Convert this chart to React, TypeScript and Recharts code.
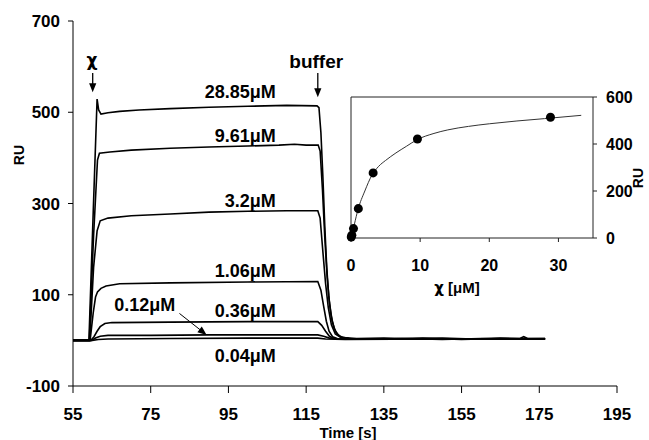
import React from 'react';
import { LineChart, ComposedChart, Line, Scatter, XAxis, YAxis, ReferenceLine, ReferenceDot } from 'recharts';

const timeTicks = [55, 75, 95, 115, 135, 155, 175, 195];
const ruTicks = [-100, 100, 300, 500, 700];

// sensorgrams: [time (s), RU]
const trace2885 = [[55, 0], [59.1, 0], [60.2, 280], [61.2, 529], [61.6, 505], [62.2, 496], [64, 499], [67, 502], [72, 505], [80, 508], [90, 511], [100, 513], [110, 515], [117.8, 514], [118.3, 510], [118.8, 455], [119.3, 360], [119.8, 250], [120.3, 160], [120.8, 98], [121.4, 55], [122.2, 26], [123.2, 12], [124.5, 6], [128, 4], [135, 5], [142, 3], [150, 5], [158, 3], [165, 5], [170, 4], [171, 8], [172, 4], [176.5, 4]];
const trace961 = [[55, 0], [59.2, 0], [60.3, 230], [61.3, 395], [61.8, 410], [64.5, 413], [70, 417], [80, 421], [90, 424], [100, 426], [108, 428], [112, 430], [115, 428], [118.1, 428], [118.6, 415], [119.2, 330], [119.8, 225], [120.4, 140], [121, 82], [121.7, 42], [122.6, 18], [123.8, 8], [126, 4], [135, 3], [145, 5], [155, 2], [165, 4], [176.5, 3]];
const trace32 = [[55, 0], [59.3, 0], [60.3, 160], [61.2, 240], [62, 262], [64, 268], [70, 273], [80, 277], [90, 281], [100, 283], [110, 284], [118, 284], [118.6, 268], [119.3, 195], [120, 125], [120.7, 72], [121.5, 34], [122.5, 14], [124, 6], [127, 3], [140, 4], [150, 2], [160, 4], [176.5, 3]];
const trace106 = [[55, 0], [59.4, 0], [60.2, 60], [60.8, 95], [61.3, 106], [62.2, 114], [63.5, 119], [67, 124], [80, 126], [100, 128], [118, 129], [118.8, 110], [119.5, 75], [120.2, 42], [120.9, 20], [121.8, 8], [123, 4], [130, 3], [145, 4], [160, 3], [176.5, 4]];
const trace036 = [[55, 0], [59.6, 0], [60.4, 8], [61.2, 20], [62, 30], [63.2, 37], [65, 39], [80, 40], [100, 41], [118, 41], [119, 33], [120, 20], [121, 9], [122, 4], [130, 3], [150, 3], [176.5, 3]];
const trace012 = [[55, 0], [59.8, 0], [60.8, 5], [62, 9], [64, 11], [75, 11], [90, 12], [110, 12], [118, 12], [119.5, 9], [121, 5], [123, 3], [140, 3], [176.5, 3]];
const trace004 = [[55, 0], [60, 0], [61.5, 2], [64, 3], [80, 4], [100, 5], [118, 5], [120, 3], [125, 2], [150, 3], [176.5, 3]];

// inset: steady-state binding
const concentrations = [0.04, 0.12, 0.36, 1.06, 3.2, 9.61, 28.85];
const equilibriumRU = [4, 12, 40, 125, 277, 421, 514];
const fitConc = [0, 0.5, 1, 2, 3, 4, 5, 6.5, 8, 9.6, 12, 14, 17, 20, 24, 28, 33.3];
const fitRU = [0, 60, 120, 200, 266, 305, 330, 362, 390, 419, 445, 460, 475, 486, 498, 508, 522];
const insetXTicks = [0, 10, 20, 30];
const insetYTicks = [0, 200, 400, 600];

const toPoints = (arr: number[][]) => arr.map(([t, ru]) => ({ t, ru }));

const traces = [trace2885, trace961, trace32, trace106, trace036, trace012, trace004].map(toPoints);
const bindingPoints = concentrations.map((c, i) => ({ c, ru: equilibriumRU[i] }));
const fitPoints = fitConc.map((c, i) => ({ c, ru: fitRU[i] }));

// annotations (label anchor = right end of text baseline)
const concLabels = [
  { text: '28.85μM', t: 107.2, ru: 531 },
  { text: '9.61μM', t: 107.2, ru: 435 },
  { text: '3.2μM', t: 107.2, ru: 293 },
  { text: '1.06μM', t: 107.2, ru: 138 },
  { text: '0.36μM', t: 107.2, ru: 52 },
  { text: '0.12μM', t: 81.3, ru: 65 },
  { text: '0.04μM', t: 107.2, ru: -47 },
];

const FONT = "'Liberation Sans', Arial, Helvetica, sans-serif";
const CHI_FONT = "'DejaVu Sans', sans-serif";

const ArrowHead = ({ cx, cy, angle }: any) => (
  <polygon points="0,0 -9,-3.6 -9,3.6" transform={`translate(${cx},${cy}) rotate(${angle})`} fill="#000" />
);

const textShape = (text: string, anchor: string, size: number, weight: string, family = FONT) => (p: any) => (
  <text x={p.cx} y={p.cy} textAnchor={anchor} fontSize={size} fontWeight={weight} fill="#000" fontFamily={family}>
    {text}
  </text>
);

const tickStyle = { fill: '#000', fontSize: 17, fontWeight: 'bold' };
const insetTick = { fill: '#000', fontSize: 16, fontWeight: 'bold' };

export default function App() {
  return (
    <div style={{ position: 'absolute', left: 0, top: 0, width: 649, height: 440, background: '#fff', fontFamily: FONT }}>
      <div style={{ position: 'absolute', left: 0, top: 0 }}>
        <LineChart width={649} height={440} margin={{ top: 21, right: 32, bottom: 0, left: 0 }}>
          <XAxis
            type="number"
            dataKey="t"
            domain={[55, 195]}
            ticks={timeTicks}
            height={54}
            tickSize={7}
            tickMargin={15}
            stroke="#000"
            tick={tickStyle}
            label={{
              content: () => (
                <text x={348} y={438} textAnchor="middle" fontSize={15} fontWeight="bold" fill="#000">
                  Time [s]
                </text>
              ),
            }}
          />
          <YAxis
            type="number"
            domain={[-100, 700]}
            ticks={ruTicks}
            width={73}
            tickSize={5}
            tickMargin={8}
            stroke="#000"
            tick={tickStyle}
            label={{
              content: () => (
                <text x={24} y={155} transform="rotate(-90, 24, 155)" textAnchor="middle" fontSize={14} fontWeight="bold" fill="#000">
                  RU
                </text>
              ),
            }}
          />
          {traces.map((d, i) => (
            <Line key={i} data={d} dataKey="ru" type="linear" stroke="#000" strokeWidth={1.6} dot={false} isAnimationActive={false} />
          ))}

          {concLabels.map((l) => (
            <ReferenceDot key={l.text} x={l.t} y={l.ru} r={0} shape={textShape(l.text, 'end', 18, 'bold')} />
          ))}

          {/* injection / wash arrows */}
          <ReferenceDot x={59.9} y={602} r={0} shape={textShape('χ', 'middle', 17, 'bold', CHI_FONT)} />
          <ReferenceLine segment={[{ x: 60.07, y: 586 }, { x: 60.07, y: 560 }]} stroke="#000" strokeWidth={1.3} />
          <ReferenceDot x={60.07} y={544} r={0} shape={(p: any) => <ArrowHead cx={p.cx} cy={p.cy} angle={90} />} />

          <ReferenceDot x={117.6} y={597} r={0} shape={textShape('buffer', 'middle', 19, 'bold')} />
          <ReferenceLine segment={[{ x: 118.0, y: 586 }, { x: 118.0, y: 550 }]} stroke="#000" strokeWidth={1.3} />
          <ReferenceDot x={118.0} y={533} r={0} shape={(p: any) => <ArrowHead cx={p.cx} cy={p.cy} angle={90} />} />

          <ReferenceLine segment={[{ x: 82.4, y: 59 }, { x: 88.5, y: 18 }]} stroke="#000" strokeWidth={1} />
          <ReferenceDot x={89.4} y={12} r={0} shape={(p: any) => <ArrowHead cx={p.cx} cy={p.cy} angle={38} />} />
        </LineChart>
      </div>

      <div style={{ position: 'absolute', left: 0, top: 0 }}>
        <ComposedChart width={649} height={440} margin={{ top: 97, right: 6, bottom: 162, left: 351 }}>
          <XAxis
            type="number"
            dataKey="c"
            domain={[0, 35]}
            ticks={insetXTicks}
            height={40}
            tickSize={4}
            tickMargin={18}
            stroke="#222"
            tick={insetTick}
            label={{
              content: () => (
                <text x={457} y={293} textAnchor="middle" fontSize={15} fontWeight="bold" fill="#000">
                  <tspan fontFamily={CHI_FONT}>χ</tspan> [μM]
                </text>
              ),
            }}
          />
          <YAxis yAxisId="l" orientation="left" type="number" domain={[0, 600]} ticks={insetYTicks} width={1} mirror tick={false} tickSize={3} stroke="#222" />
          <YAxis
            yAxisId="r"
            orientation="right"
            type="number"
            domain={[0, 600]}
            ticks={insetYTicks}
            width={50}
            tickSize={4}
            tickMargin={9}
            stroke="#222"
            tick={insetTick}
            label={{
              content: () => (
                <text x={643} y={178} transform="rotate(-90, 643, 178)" textAnchor="middle" fontSize={14} fontWeight="bold" fill="#000">
                  RU
                </text>
              ),
            }}
          />
          <ReferenceLine yAxisId="r" y={600} stroke="#222" />
          <Line yAxisId="r" data={fitPoints} dataKey="ru" type="monotone" stroke="#333" strokeWidth={1} dot={false} isAnimationActive={false} />
          <Scatter yAxisId="r" data={bindingPoints} dataKey="ru" fill="#000" isAnimationActive={false} />
        </ComposedChart>
      </div>
    </div>
  );
}
